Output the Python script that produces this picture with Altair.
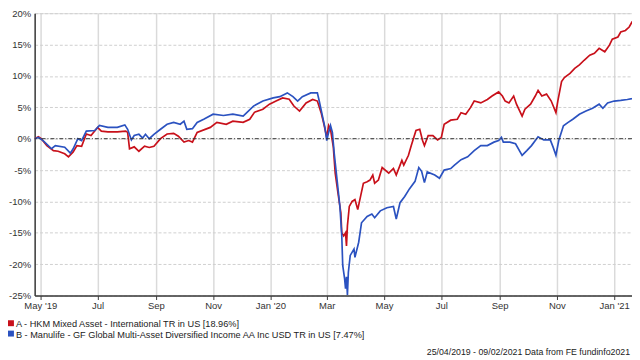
import altair as alt
import pandas as pd

# ---- data ----
start_date = "2019-04-25"
end_visible = "2021-01-20"

series_names = ["A - HKM Mixed Asset - International TR in US [18.96%]",
                "B - Manulife - GF Global Multi-Asset Diversified Income AA Inc USD TR in US [7.47%]"]
series_colors = ["#c8101a", "#2b52c0"]

days_a = [0, 4, 7, 13, 20, 25, 32, 36, 41, 45,
          50, 55, 60, 67, 71, 78, 88, 97, 99, 101,
          106, 111, 117, 122, 127, 134, 141, 148, 153, 159,
          164, 168, 173, 187, 194, 204, 211, 222, 229, 234,
          243, 250, 257, 264, 271, 276, 282, 289, 296, 301,
          305, 308, 311, 313, 315, 318, 320, 323, 326, 327,
          329, 331, 332, 333, 335, 338, 341, 344, 347, 350,
          354, 357, 360, 362, 366, 370, 377, 382, 385, 391,
          393, 398, 401, 406, 410, 413, 415, 419, 424, 429,
          433, 436, 443, 450, 454, 459, 464, 468, 475, 482,
          487, 494, 498, 501, 505, 510, 513, 519, 522, 528,
          533, 536, 540, 545, 550, 555, 557, 561, 564, 570,
          575, 580, 585, 591, 596, 601, 607, 612, 615, 621,
          624, 629, 633, 636, 645, 656]
pct_a = [0, 0.3, 0, -1.1, -1.9, -2.0, -2.4, -2.9, -2.1, -1.1,
         -1.2, 0.75, 0.5, 1.8, 1.2, 1.1, 1.1, 1.2, 1.0, -1.6,
         -1.3, -2.0, -1.2, -1.4, -1.2, 0.0, 0.75, 0.85, 0.4, -0.55,
         -0.3, -0.55, 1.0, 1.8, 2.6, 2.3, 2.8, 2.6, 3.1, 4.2,
         4.7, 5.5, 6.0, 6.5, 6.3, 5.2, 4.4, 5.7, 6.25, 6.0,
         4.15, 2.3, 0.2, 2.1, 1.5, -1.35, -5.5, -8.7, -11.8, -15.0,
         -15.5, -15.0, -17.1, -13.9, -10.8, -10.0, -9.7, -11.3, -9.2, -7.1,
         -6.85, -6.6, -5.8, -7.1, -6.6, -4.6, -5.5, -4.75, -5.8, -3.45,
         -4.2, -2.65, -1.1, 1.3, 1.5, -0.3, -1.1, 0.5, 0.5, -0.2,
         0.2, 2.3, 2.95, 3.1, 4.15, 3.9, 4.95, 6.0, 5.7, 6.25,
         6.8, 7.45, 6.8, 6.0, 5.7, 6.8, 5.5, 3.6, 4.7, 5.5,
         6.8, 7.7, 6.8, 7.1, 6.0, 4.15, 6.0, 9.1, 9.75, 10.4,
         11.2, 11.75, 12.5, 13.3, 13.6, 14.4, 13.85, 14.9, 15.85, 16.2,
         17.0, 17.25, 17.8, 18.6, 18.4, 18.96]

days_b = [0, 4, 9, 18, 22, 32, 38, 41, 46, 50,
          55, 64, 69, 78, 88, 96, 99, 103, 106, 111,
          115, 118, 122, 127, 134, 141, 148, 155, 159, 162,
          168, 173, 180, 190, 201, 211, 222, 233, 243, 254,
          261, 269, 275, 280, 285, 294, 301, 303, 306, 309,
          311, 313, 315, 317, 319, 322, 325, 327, 328, 330,
          331, 332, 333, 334, 336, 340, 341, 345, 348, 354,
          359, 362, 368, 375, 382, 385, 389, 394, 399, 405,
          409, 412, 415, 418, 426, 431, 436, 443, 447, 454,
          461, 468, 475, 482, 489, 494, 497, 499, 506, 512,
          519, 524, 529, 536, 542, 549, 552, 555, 558, 563,
          568, 573, 580, 587, 594, 601, 605, 610, 617, 624,
          631, 636, 645, 656]
pct_b = [0, 0.2, -0.3, -1.6, -1.1, -1.35, -2.3, -1.6, 0.0, -0.3,
         1.2, 1.3, 2.1, 1.8, 1.8, 2.2, 1.5, -0.2, 0.5, 0.7,
         0.1, 0.7, 0.0, 0.7, 1.5, 2.3, 2.6, 2.3, 2.8, 1.5,
         1.6, 2.6, 3.1, 3.9, 3.7, 3.9, 3.6, 5.2, 6.0, 6.5,
         6.7, 7.3, 6.7, 6.0, 6.7, 7.3, 7.3, 6.0, 3.9, 1.8,
         -0.3, 1.0, 2.1, 1.0, -2.4, -6.6, -10.8, -15.5, -20.2, -22.3,
         -23.9, -22.0, -24.9, -21.3, -18.6, -17.6, -18.9, -16.5, -13.4, -12.4,
         -12.0, -12.6, -11.5, -11.0, -10.8, -12.8, -10.2, -9.2, -8.0, -6.8,
         -4.6, -5.2, -7.0, -5.3, -5.8, -6.3, -5.0, -4.75, -4.2, -3.35,
         -2.9, -1.9, -1.1, -1.1, -0.55, -0.3, 0.2, -0.55, -0.55, -0.8,
         -2.65, -1.9, -1.1, 0.3, -0.2, -0.2, -1.35, -2.65, -0.3, 2.05,
         2.6, 3.1, 3.9, 4.4, 4.85, 5.5, 4.85, 5.7, 6.0, 6.1,
         6.25, 6.4, 6.8, 7.47]

y_ticks = [-25, -20, -15, -10, -5, 0, 5, 10, 15, 20]
x_ticks = ["2019-05-01", "2019-07-01", "2019-09-01", "2019-11-01", "2020-01-01",
           "2020-03-01", "2020-05-01", "2020-07-01", "2020-09-01", "2020-11-01",
           "2021-01-01"]
footer_text = "25/04/2019 - 09/02/2021 Data from FE fundinfo2021"

# ---- build table ----
assert len(days_a) == len(pct_a) and len(days_b) == len(pct_b)
start = pd.Timestamp(start_date)
df = pd.concat([
    pd.DataFrame({"day": days_a, "pct": pct_a, "series": series_names[0]}),
    pd.DataFrame({"day": days_b, "pct": pct_b, "series": series_names[1]}),
])
df["date"] = (start + pd.to_timedelta(df["day"], unit="D")).dt.strftime("%Y-%m-%dT00:00:00")

FONT = "Liberation Sans"


def dt(s):
    t = pd.Timestamp(s)
    return alt.DateTime(year=t.year, month=t.month, date=t.day)


x_enc = alt.X(
    "date:T",
    scale=alt.Scale(domain=[dt(start_date), dt(end_visible)]),
    axis=alt.Axis(
        values=[dt(v) for v in x_ticks],
        labelExpr="timeFormat(datum.value, '%b') + ((month(datum.value) == 0 || (year(datum.value) == 2019 && month(datum.value) == 4)) ? \" '\" + timeFormat(datum.value, '%y') : '')",
        grid=True, gridColor="#dadada", gridWidth=1.5, gridDash=[1, 0],
        domainColor="#3a3a3a", domainWidth=1.5,
        tickColor="#3a3a3a", tickSize=4, tickWidth=1,
        labelFont=FONT, labelFontSize=9.6, labelColor="#333333",
        labelPadding=1, labelFlush=False, labelOverlap=False, title=None,
    ),
)

y_scale = alt.Scale(domain=[-25, 20], nice=False)
y_axis = alt.Axis(
    values=y_ticks,
    labelExpr="datum.value + '%'",
    grid=True, gridColor="#cfcfcf", gridDash=[3, 2], gridWidth=1,
    domainColor="#3a3a3a", domainWidth=1.5,
    ticks=False, labelPadding=4, labelOverlap=False, labelFlush=False,
    labelFont=FONT, labelFontSize=9.6, labelColor="#333333",
    title=None,
)

lines = alt.Chart(df).mark_line(strokeWidth=1.7, clip=True).encode(
    x=x_enc,
    y=alt.Y("pct:Q", scale=y_scale, axis=y_axis),
    color=alt.Color("series:N", scale=alt.Scale(domain=series_names, range=series_colors), legend=None),
    order=alt.Order("day:Q"),
    detail="series:N",
)

zero = alt.Chart(pd.DataFrame({"pct": [0]})).mark_rule(
    color="#333333", strokeWidth=1, strokeDash=[4, 2, 1, 2]
).encode(y=alt.Y("pct:Q", scale=y_scale, axis=y_axis))

one = pd.DataFrame({"k": [0]})


def square(color, y0):
    return alt.Chart(one).mark_rect(color=color).encode(
        x=alt.value(-27), x2=alt.value(-21), y=alt.value(y0), y2=alt.value(y0 + 6))


def label(text, x, y, align="left", size=9.3):
    return alt.Chart(one).mark_text(
        text=text, align=align, baseline="middle", font=FONT, fontSize=size, color="#222222"
    ).encode(x=alt.value(x), y=alt.value(y))


chart = alt.layer(
    lines, zero,
    square(series_colors[0], 311), square(series_colors[1], 321.5),
    label(series_names[0], -19, 314.5),
    label(series_names[1], -19, 325.5),
    label(footer_text, 603, 343.5, align="right", size=8.9),
).properties(
    width=605, height=286,
    autosize=alt.AutoSizeParams(type="none"),
    padding={"left": 27, "top": 3, "right": 0, "bottom": 63},
).configure_view(strokeWidth=0).configure_axisY(labelOverlap=False).configure(background="white")

chart.save("out.html", embed_options={"renderer": "svg", "actions": False})
